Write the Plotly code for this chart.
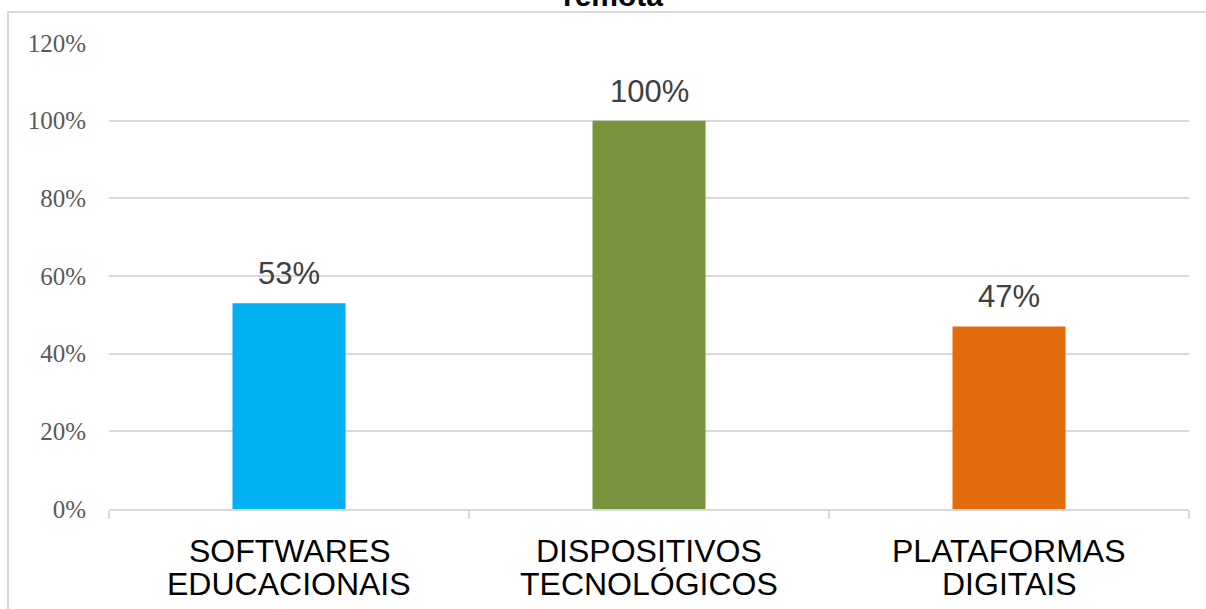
import plotly.graph_objects as go

categories = ["SOFTWARES EDUCACIONAIS", "DISPOSITIVOS TECNOLÓGICOS", "PLATAFORMAS DIGITAIS"]
category_lines = [["SOFTWARES", "EDUCACIONAIS"], ["DISPOSITIVOS", "TECNOLÓGICOS"], ["PLATAFORMAS", "DIGITAIS"]]
values = [53, 100, 47]
colors = ["#00B0F0", "#77933C", "#E36C0A"]
labels = ["53%", "100%", "47%"]
y_ticks = [0, 20, 40, 60, 80, 100, 120]
y_tick_text = ["0%", "20%", "40%", "60%", "80%", "100%", "120%"]

W, H = 1206, 609
ml, mr, mt, mb = 109, 17, 43, 100
pw, ph = W - ml - mr, H - mt - mb

fig = go.Figure()
fig.add_trace(go.Bar(
    x=categories, y=values, marker=dict(color=colors, line=dict(width=0)),
    width=0.314,
))

annotations = []
for cat, val, lab in zip(categories, values, labels):
    annotations.append(dict(
        x=cat, y=val, xref="x", yref="y", text=lab, showarrow=False,
        xanchor="center", yanchor="bottom", yshift=10,
        font=dict(family="Liberation Sans, Arial", size=31, color="#404040"),
    ))
for cat, lines in zip(categories, category_lines):
    for i, line in enumerate(lines):
        annotations.append(dict(
            x=cat, y=0, xref="x", yref="y", text=line, showarrow=False,
            xanchor="center", yanchor="middle", yshift=-(42 + 33 * i),
            font=dict(family="Liberation Sans, Arial", size=32, color="#000000"),
        ))
annotations.append(dict(
    text="<b>remota</b>", xref="paper", yref="paper",
    x=(613 - ml) / pw, y=1 + (mt - 14) / ph, xanchor="center", yanchor="bottom",
    showarrow=False, font=dict(family="Liberation Sans, Arial", size=30, color="#000000"),
))

fig.update_layout(
    width=W, height=H,
    margin=dict(l=ml, r=mr, t=mt, b=mb),
    paper_bgcolor="white", plot_bgcolor="white",
    showlegend=False,
    xaxis=dict(
        showticklabels=False,
        ticks="outside", tickson="boundaries", ticklen=8, tickcolor="#D9D9D9", tickwidth=2,
        showline=True, linecolor="#D9D9D9", linewidth=2,
        showgrid=False,
    ),
    yaxis=dict(
        range=[0, 120], tickvals=y_ticks, ticktext=y_tick_text,
        tickfont=dict(family="Liberation Serif, Cambria, serif", size=25, color="#595959"),
        showgrid=True, gridcolor="#D9D9D9", gridwidth=2,
        zeroline=False, showline=False, ticks="", ticklabelstandoff=22,
    ),
    shapes=[dict(
        type="rect", xref="paper", yref="paper",
        x0=(8 - ml) / pw, x1=(W + 5 - ml) / pw,
        y0=-(mb + 10) / ph, y1=1 + (mt - 12) / ph,
        line=dict(color="#D9D9D9", width=2), fillcolor="rgba(0,0,0,0)", layer="below",
    )],
    annotations=annotations,
)

fig.write_html("out.html")
